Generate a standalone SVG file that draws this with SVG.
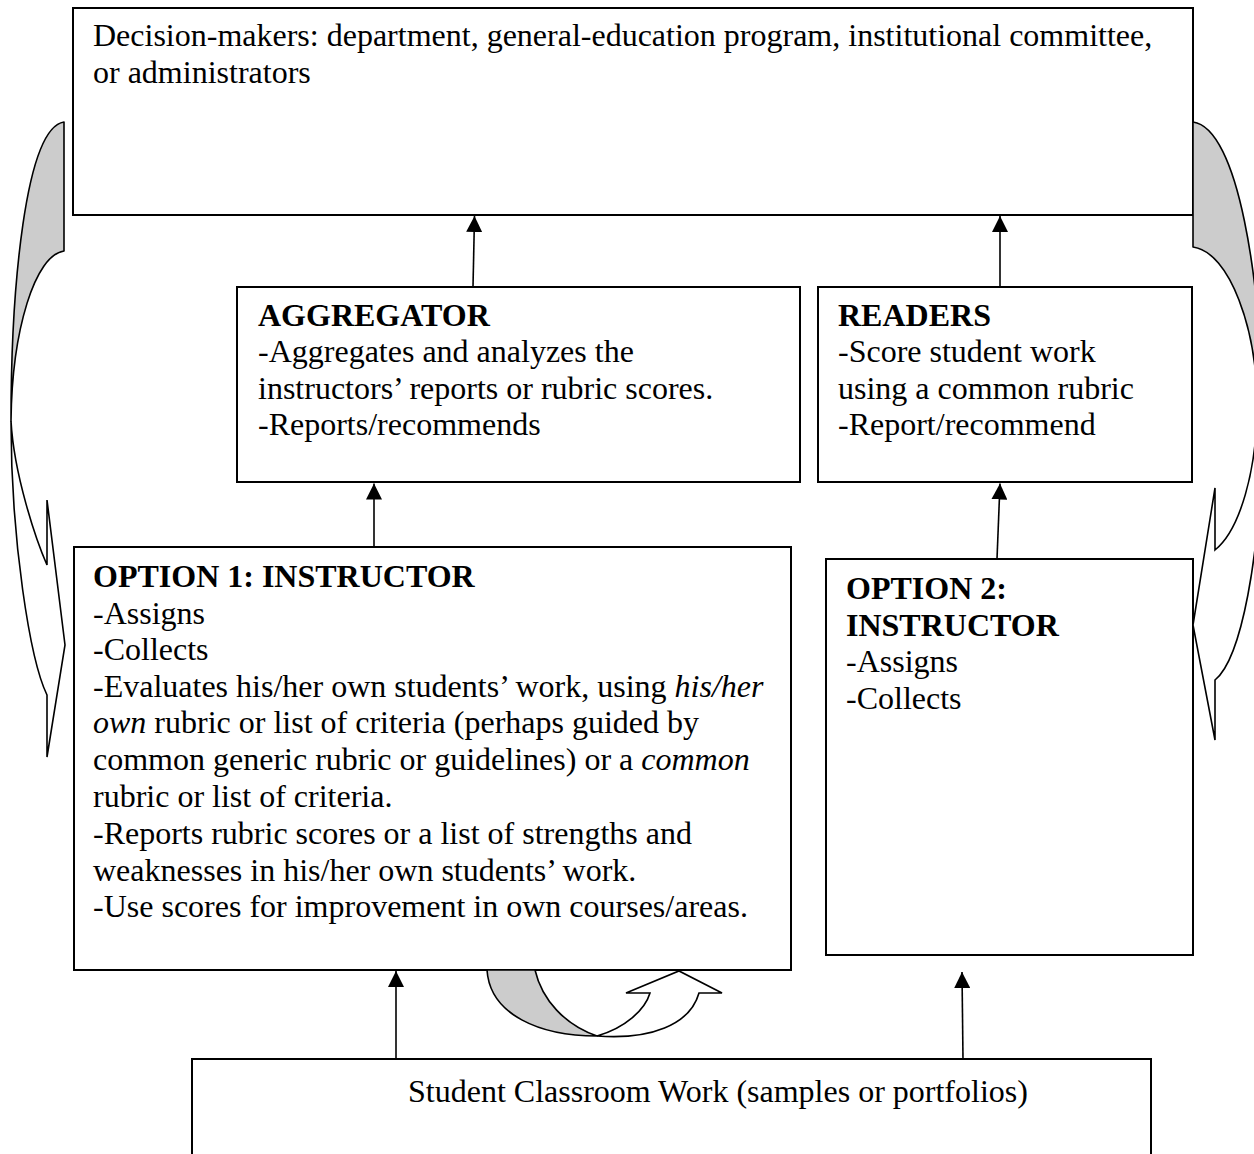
<svg xmlns="http://www.w3.org/2000/svg" width="1254" height="1154" viewBox="0 0 1254 1154">
<defs>
<style>
.box{fill:#fff;stroke:#000;stroke-width:2}
.t{font-family:"Liberation Serif","Times New Roman",serif;font-size:32px;fill:#000}
.b{font-weight:bold}
.i{font-style:italic}
.conn{stroke:#000;stroke-width:1.6;fill:none}
.back{fill:#cccccc;stroke:#000;stroke-width:1.6;stroke-linejoin:round}
.front{fill:#fff;stroke:#000;stroke-width:1.6;stroke-linejoin:miter}
</style>
<marker id="ah" markerUnits="userSpaceOnUse" markerWidth="16" markerHeight="16" refX="16" refY="8" orient="auto" viewBox="0 0 16 16">
<path d="M0,0 L16,8 L0,16 z" fill="#000"/>
</marker>
</defs>
<rect width="1254" height="1154" fill="#fff"/>

<g id="decision-makers">
<rect class="box" x="73" y="8" width="1120" height="207"/>
<text class="t" x="93" y="46">Decision-makers: department, general-education program, institutional committee,</text>
<text class="t" x="93" y="83">or administrators</text>
</g>

<g id="aggregator">
<rect class="box" x="237" y="287" width="563" height="195"/>
<text class="t" x="258" y="326"><tspan class="b">AGGREGATOR</tspan></text>
<text class="t" x="258" y="362">-Aggregates and analyzes the</text>
<text class="t" x="258" y="398.5">instructors’ reports or rubric scores.</text>
<text class="t" x="258" y="435">-Reports/recommends</text>
</g>

<g id="readers">
<rect class="box" x="818" y="287" width="374" height="195"/>
<text class="t" x="838" y="326"><tspan class="b">READERS</tspan></text>
<text class="t" x="838" y="362">-Score student work</text>
<text class="t" x="838" y="398.5">using a common rubric</text>
<text class="t" x="838" y="435">-Report/recommend</text>
</g>

<g id="option1">
<rect class="box" x="74" y="547" width="717" height="423"/>
<text class="t" x="93" y="587"><tspan class="b">OPTION 1: INSTRUCTOR</tspan></text>
<text class="t" x="93" y="623.5">-Assigns</text>
<text class="t" x="93" y="660">-Collects</text>
<text class="t" x="93" y="696.5">-Evaluates his/her own students’ work, using <tspan class="i">his/her</tspan></text>
<text class="t" x="93" y="733"><tspan class="i">own</tspan> rubric or list of criteria (perhaps guided by</text>
<text class="t" x="93" y="770">common generic rubric or guidelines) or a <tspan class="i">common</tspan></text>
<text class="t" x="93" y="806.5">rubric or list of criteria.</text>
<text class="t" x="93" y="843.5">-Reports rubric scores or a list of strengths and</text>
<text class="t" x="93" y="880.5">weaknesses in his/her own students’ work.</text>
<text class="t" x="93" y="917">-Use scores for improvement in own courses/areas.</text>
</g>

<g id="option2">
<rect class="box" x="826" y="559" width="367" height="396"/>
<text class="t" x="846" y="599"><tspan class="b">OPTION 2:</tspan></text>
<text class="t" x="846" y="636"><tspan class="b">INSTRUCTOR</tspan></text>
<text class="t" x="846" y="672">-Assigns</text>
<text class="t" x="846" y="709">-Collects</text>
</g>

<g id="student-work">
<rect class="box" x="192" y="1059" width="959" height="110"/>
<text class="t" x="408" y="1102">Student Classroom Work (samples or portfolios)</text>
</g>

<g id="connectors">
<line class="conn" x1="473" y1="287" x2="474.5" y2="216" marker-end="url(#ah)"/>
<line class="conn" x1="1000" y1="287" x2="1000" y2="216" marker-end="url(#ah)"/>
<line class="conn" x1="374" y1="547" x2="374" y2="483.5" marker-end="url(#ah)"/>
<line class="conn" x1="997" y1="559" x2="1000" y2="483.5" marker-end="url(#ah)"/>
<line class="conn" x1="396" y1="1059" x2="396" y2="971" marker-end="url(#ah)"/>
<line class="conn" x1="963" y1="1059" x2="962" y2="972" marker-end="url(#ah)"/>

<g id="loop-left">
<path class="back" d="M64,122 C25,128 11,290 11,421 C12,330 35,255 64,251 Z"/>
<path class="front" d="M11,421 C11,540 30,660 47,695 L47,757 L65,645 L47,500 L47,565 C36,540 14,475 11,421 Z"/>
</g>
<g id="loop-right">
<path class="back" d="M1193,122 C1238,128 1262,280 1262,420 L1257,405 C1257,330 1230,252 1193,247 Z"/>
<path class="front" d="M1257,405 C1257,470 1240,530 1215,550 L1215,488 L1193,625 L1215,740 L1215,680 C1240,660 1262,560 1262,420 Z"/>
</g>
<g id="loop-bottom">
<path class="back" d="M487,970 C490,1015 540,1036 597,1036 C565,1025 542,1000 535,970 Z"/>
<path class="front" d="M597,1036 C625,1028 645,1010 650,993 L626,993 L679,971 L722,993 L699,993 C690,1025 650,1040 597,1036 Z"/>
</g>
</g>
</svg>
